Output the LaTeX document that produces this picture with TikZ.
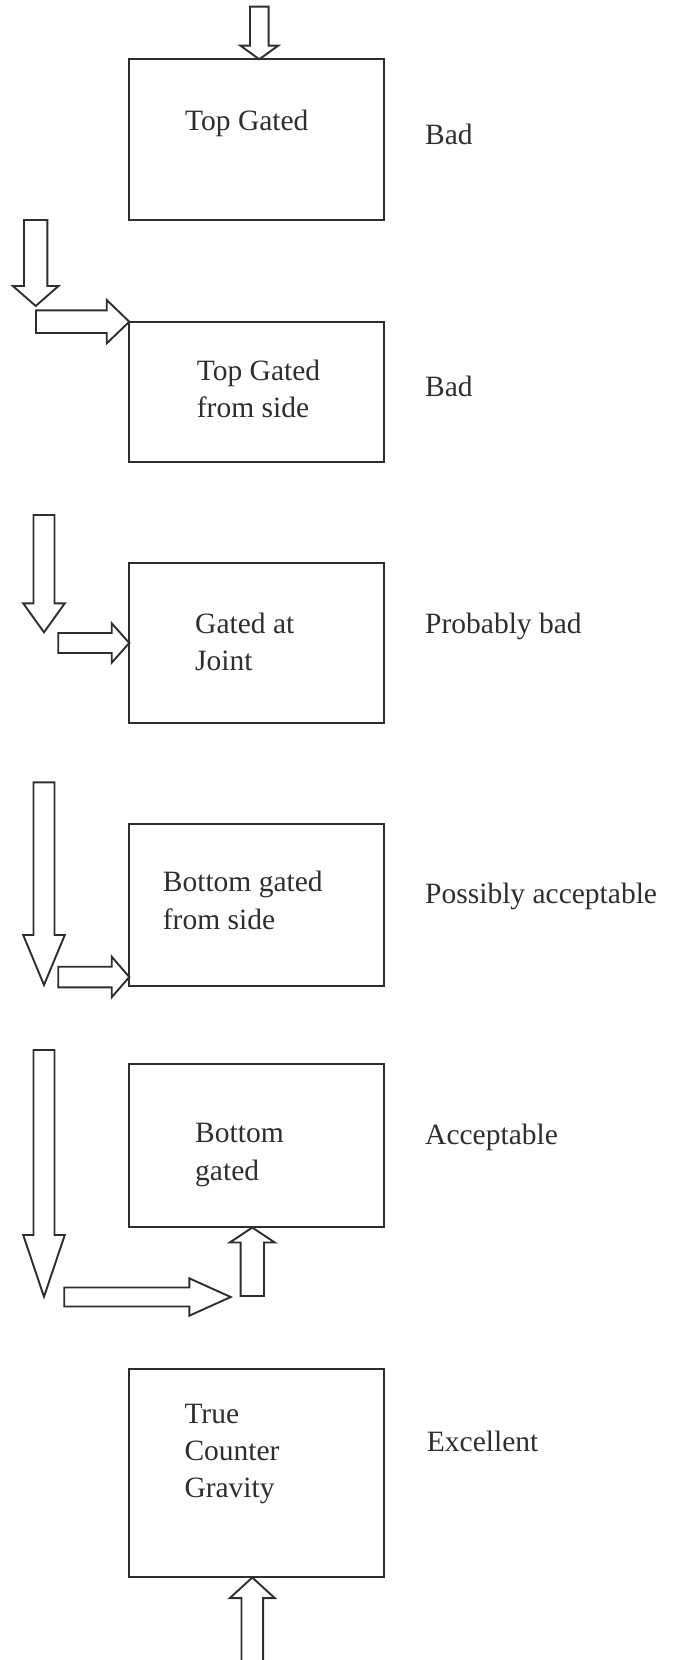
\documentclass[tikz,border=0pt]{standalone}
\usepackage{fontspec}
\setmainfont{Liberation Serif}
\definecolor{ink}{HTML}{2E2E2E}
\tikzset{
  gatebox/.style={draw=ink, line width=1.9bp, minimum width=255bp, inner sep=0pt, outer sep=0pt, anchor=north west},
  boxtext/.style={anchor=base west, inner sep=0pt, text=ink, font=\fontsize{29.5bp}{37.3bp}\selectfont},
  rating/.style={anchor=base west, inner sep=0pt, text=ink, font=\fontsize{29.5bp}{37.3bp}\selectfont},
  flow/.style={draw=ink, line width=1.9bp, fill=white, line join=miter},
}
% block arrow: tip, angle, total length, shaft half-width, head half-width, head length
\newcommand{\gatearrow}[6]{%
  \draw[flow, shift={(#1)}, rotate=#2] (0bp,0bp) -- (-#6bp,#5bp) -- (-#6bp,#4bp) -- (-#3bp,#4bp)
    -- (-#3bp,-#4bp) -- (-#6bp,-#4bp) -- (-#6bp,-#5bp) -- cycle;}
\newcommand{\lines}[1]{\begin{tabular}[t]{@{}l@{}}#1\end{tabular}}
\begin{document}
\begin{tikzpicture}[x=1bp, y=-1bp]
\useasboundingbox (0,0) rectangle (674,1660);

% gating boxes
\node[gatebox, minimum height=160.7bp] (b1) at (129.3,59.3) {};
\node[gatebox, minimum height=140bp]   (b2) at (129.3,321.7) {};
\node[gatebox, minimum height=159.4bp] (b3) at (129.3,563.3) {};
\node[gatebox, minimum height=161.4bp] (b4) at (129.3,824.3) {};
\node[gatebox, minimum height=162.7bp] (b5) at (129.3,1064) {};
\node[gatebox, minimum height=208bp]   (b6) at (129.3,1369.3) {};

% box texts
\node[boxtext] (t1) at (185,130)     {Top Gated};
\node[boxtext] (t2) at (196.7,380)   {\lines{Top Gated\\from side}};
\node[boxtext] (t3) at (195,633.3)   {\lines{Gated at\\Joint}};
\node[boxtext] (t4) at (162.7,891.7) {\lines{Bottom gated\\from side}};
\node[boxtext] (t5) at (195,1142.7)  {\lines{Bottom\\gated}};
\node[boxtext] (t6) at (184.3,1423.3){\lines{True\\Counter\\Gravity}};

% ratings
\node[rating] (r1) at (425,144)    {Bad};
\node[rating] (r2) at (425,396.7)  {Bad};
\node[rating] (r3) at (425,633.3)  {Probably bad};
\node[rating] (r4) at (425,903.3)  {Possibly acceptable};
\node[rating] (r5) at (425,1144)   {Acceptable};
\node[rating] (r6) at (426.7,1451.7) {Excellent};

% arrow tips
\coordinate (a1)  at (259.3,59.3);
\coordinate (a2d) at (35.7,306);
\coordinate (a2r) at (b2.north west);
\coordinate (a3d) at (44,632.3);
\coordinate (a3r) at (129.3,643);
\coordinate (a4d) at (44,985);
\coordinate (a4r) at (129.3,977);
\coordinate (a5d) at (44,1296.7);
\coordinate (a5r) at (230.7,1297);
\coordinate (a5u) at (252.3,1227.5);
\coordinate (a6u) at (252.3,1577.5);

% metal flow arrows
\gatearrow{a1}{-90}{52.6}{9.3}{18.8}{13.6}
\gatearrow{a2d}{-90}{86}{11.7}{22.8}{20}
\gatearrow{a2r}{0}{93.3}{11.3}{21.7}{22.6}
\gatearrow{a3d}{-90}{117.3}{10.5}{20.8}{29}
\gatearrow{a3r}{0}{71}{10}{19.7}{17.6}
\gatearrow{a4d}{-90}{202.7}{10.5}{20.8}{50}
\gatearrow{a4r}{0}{71}{10.3}{20.3}{17.6}
\gatearrow{a5d}{-90}{246.7}{10.5}{20.8}{61.7}
\gatearrow{a5r}{0}{166.4}{9.5}{18.7}{41.4}
\gatearrow{a5u}{90}{68.5}{11.7}{22.5}{15}
\gatearrow{a6u}{90}{90}{10.8}{22.5}{20.6}
\end{tikzpicture}
\end{document}
